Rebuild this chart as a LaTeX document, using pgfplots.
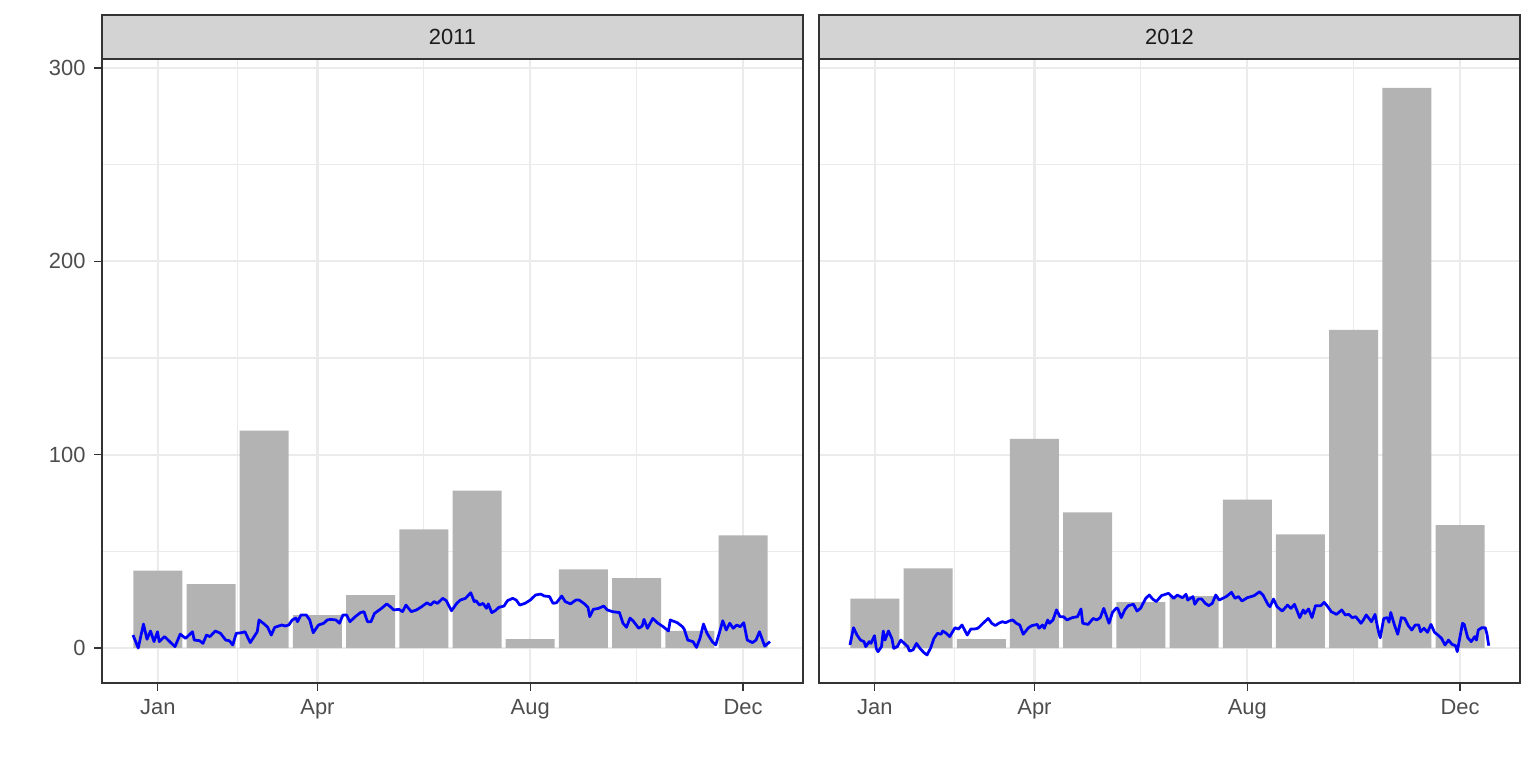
\documentclass[border=0pt]{standalone}
\usepackage{pgfplots}
\pgfplotsset{compat=1.18}
\usepackage{fontspec}
\setmainfont{Liberation Sans}
\definecolor{gridc}{HTML}{EBEBEB}
\definecolor{stripfill}{HTML}{D3D3D3}
\definecolor{borderc}{HTML}{333333}
\definecolor{barc}{HTML}{B3B3B3}
\definecolor{ticklab}{HTML}{4D4D4D}
\definecolor{striptext}{HTML}{1A1A1A}
\pgfplotsset{
 panel/.style={
  scale only axis, width=280.4bp, height=249.6bp,
  anchor=south west,
  xmin=-16.71, xmax=383.86, ymin=-18.1, ymax=304.66,
  xtick={15.2,106.4,228,349.6}, xticklabels={Jan,Apr,Aug,Dec},
  ytick={0,100,200,300},
  minor xtick={60.8,167.2,288.8}, minor ytick={50,150,250},
  grid=both,
  major grid style={color=gridc, line width=0.9bp},
  minor grid style={color=gridc, line width=0.45bp},
  tick align=outside, tick pos=left,
  major tick length=3.1bp, minor tick length=0pt,
  tick style={color=borderc, line width=0.5bp},
  axis line style={color=borderc, line width=0.55bp},
  tick label style={font=\fontsize{8.8}{10}\selectfont, color=ticklab},
  /pgf/number format/assume math mode=true,
  clip=false,
 },
}
\begin{document}
\begin{tikzpicture}
\useasboundingbox (0,0) rectangle (614.4bp,307.2bp);
% ---------------- 2011 ----------------
\begin{axis}[panel, at={(40.8bp,34bp)}]
\addplot[ybar, bar width=28, fill=barc, draw=none] coordinates {
(15.2,40.0) (45.6,33.0) (76.0,112.4) (106.4,17.0) (136.8,27.3) (167.2,61.3)
(197.6,81.4) (228.0,4.6) (258.4,40.7) (288.8,36.1) (319.2,8.8) (349.6,58.2)};
\addplot[blue, line width=1.1bp, line join=round] coordinates {
(1,6.7) (4,0) (7,12.4) (9,4.5) (11,8.8) (13,3.3) (15,8.4) (16,3.3) (19,5.9)
(22,3.3) (25,0.7) (28,7.2) (31,5) (35,8.4) (36,4.1) (39,3.8) (41,2.4) (43,6.7)
(45,5.9) (48,8.8) (51,7.6) (54,4.1) (56,3.8) (58,1.6) (60,7.6) (63,7.9) (65,8.4)
(68,2.8) (72,8.4) (73,14.5) (76,12.4) (78,10.7) (80,6.7) (82,10.7) (86,11.9)
(88,11.4) (90,11.9) (92,14.5) (94,15.5) (95,13.6) (97,17.1) (100,17.1) (102,14.5)
(104,7.9) (107,11.9) (110,12.8) (112,14.5) (114,14.8) (117,14.5) (119,12.8)
(121,17.1) (123,17.1) (125,13.6) (128,16.2) (131,18.3) (133,18.8) (135,13.6)
(137,13.6) (139,17.9) (143,20.5) (146,22.8) (148,21.4) (150,19.7) (153,20)
(155,18.8) (157,22.2) (160,18.8) (163,19.7) (166,21.4) (169,23.4) (171,22.2)
(173,24) (175,23.1) (178,25.7) (180,24.5) (183,19.3) (186,23.1) (188,24.8)
(191,25.7) (194,28.6) (196,24) (197,24.5) (199,22.2) (201,23.1) (203,20.5)
(204,22.8) (206,18.3) (208,19.3) (210,21) (213,21.7) (215,24.5) (218,25.7)
(220,24.8) (222,22.2) (225,23.1) (228,24.8) (231,27.4) (234,27.9) (236,26.9)
(239,26.6) (241,23.1) (243,23.4) (246,26.9) (248,24) (251,22.8) (254,24.8)
(256,24.8) (259,22.8) (261,21) (262,16.2) (264,20) (267,20.5) (270,21.7)
(272,19.7) (275,18.8) (279,18.3) (281,12.8) (283,10.7) (285,15.5) (287,13.8)
(290,10.2) (292,11.4) (293,14.8) (295,10.2) (298,15.3) (301,12.8) (304,11)
(307,8.8) (308,14.5) (312,13.1) (315,11) (316,9.7) (318,4.1) (321,3.3) (323,0.3)
(325,5) (327,12.4) (329,7.6) (332,3.3) (334,1.6) (336,7.6) (338,14.1) (340,9.3)
(342,12.8) (344,10.2) (346,11.9) (348,11) (350,13.1) (352,4.1) (355,2.8)
(357,4.1) (359,8.4) (360,5.9) (362,1) (365,3.3)};
\draw[fill=stripfill, draw=borderc, line width=0.55bp] (rel axis cs:0,1) rectangle ([yshift=17.6bp]rel axis cs:1,1);
\draw[borderc, line width=0.9bp] (rel axis cs:0,1) -- (rel axis cs:1,1);
\node[font=\fontsize{8.8}{10}\selectfont, text=striptext] at ([yshift=8.8bp]rel axis cs:0.5,1) {2011};
\end{axis}
% ---------------- 2012 ----------------
\begin{axis}[panel, at={(327.6bp,34bp)}, yticklabels={}, ytick style={draw=none}]
\addplot[ybar, bar width=28, fill=barc, draw=none] coordinates {
(15.2,25.6) (45.6,41.2) (76.0,4.6) (106.4,108.2) (136.8,70.1) (167.2,23.7)
(197.6,26.8) (228.0,76.8) (258.4,58.8) (288.8,164.5) (319.2,289.7) (349.6,63.6)};
\addplot[blue, line width=1.1bp, line join=round] coordinates {
(1,1.6) (3,10.5) (5,6.7) (7,4.1) (9,3.3) (10,0.7) (12,3.3) (13,2.4) (15,6.4)
(16,-0.2) (17,-1.9) (19,0.7) (20,8.8) (21,4.1) (23,8.8) (25,4.7) (26,-0.2)
(28,0.7) (30,4.1) (32,2.4) (34,0.7) (35,-1.6) (37,-1) (39,2.4) (41,-0.2)
(43,-2.2) (45,-3.6) (47,-0.2) (49,5) (51,7.6) (53,7.1) (54,8.8) (56,7.6)
(58,5.9) (61,10.5) (63,9.8) (65,11.9) (68,6.7) (70,9.8) (72,9.8) (74,10.2)
(75,11) (77,12.8) (80,15.3) (82,12.8) (84,11.6) (86,12.8) (88,13.6) (90,13.1)
(92,14) (94,14.5) (96,12.8) (98,11.9) (100,7.1) (103,10.5) (105,11.6) (108,12.2)
(109,10.2) (111,11.9) (112,10.2) (114,14.5) (115,12.8) (117,14.5) (119,19.7)
(121,16.2) (123,16.2) (125,14.5) (128,15.7) (131,16.2) (133,20.2) (134,12.8)
(137,12.2) (140,15.3) (142,14.5) (144,15.7) (146,20.5) (149,12.8) (151,18.4)
(153,20.5) (154,20.5) (156,15.7) (158,19.7) (160,21.9) (163,22.6) (165,19.1)
(167,20.5) (170,25.7) (172,27.4) (174,25.3) (176,24) (179,27.1) (183,28.3)
(186,25.7) (188,27.4) (191,26) (193,27.8) (194,24.8) (197,26.6) (198,22.6)
(200,25.3) (202,25.3) (204,23.1) (206,21.9) (208,23.1) (210,27.4) (212,24.8)
(214,25.7) (216,26.6) (219,28.8) (221,25.7) (223,26.6) (225,24.3) (228,26)
(232,27.1) (235,29.1) (237,27.4) (240,22.2) (241,21.4) (243,25.3) (245,21.4)
(248,19.1) (251,22.2) (253,20.5) (255,22.6) (258,15.7) (260,19.7) (261,17.9)
(263,20.2) (265,15.7) (267,21.9) (270,21.9) (272,23.6) (274,21.4) (276,18.8)
(279,17.4) (282,19.7) (284,17.1) (286,17.4) (288,15.7) (290,16.2) (293,12.8)
(294,14) (296,17.1) (299,13.6) (301,17.4) (303,8.4) (304,5.3) (306,15.3)
(308,15.7) (309,13.3) (310,18.4) (312,12.2) (314,7.1) (316,15.7) (318,15.3)
(320,11.6) (322,9.3) (324,11.9) (326,11.9) (327,8.4) (329,10.2) (331,8.1)
(333,12.2) (335,8.1) (337,6.7) (339,5) (341,1.6) (343,4.1) (345,1.9) (347,1.2)
(348,-1.9) (351,12.8) (352,12.2) (354,5.3) (356,3.3) (358,5.9) (359,4.1)
(360,9.3) (362,10.5) (364,10.5) (365,7.1) (366,1.2)};
\draw[fill=stripfill, draw=borderc, line width=0.55bp] (rel axis cs:0,1) rectangle ([yshift=17.6bp]rel axis cs:1,1);
\draw[borderc, line width=0.9bp] (rel axis cs:0,1) -- (rel axis cs:1,1);
\node[font=\fontsize{8.8}{10}\selectfont, text=striptext] at ([yshift=8.8bp]rel axis cs:0.5,1) {2012};
\end{axis}
\end{tikzpicture}
\end{document}
